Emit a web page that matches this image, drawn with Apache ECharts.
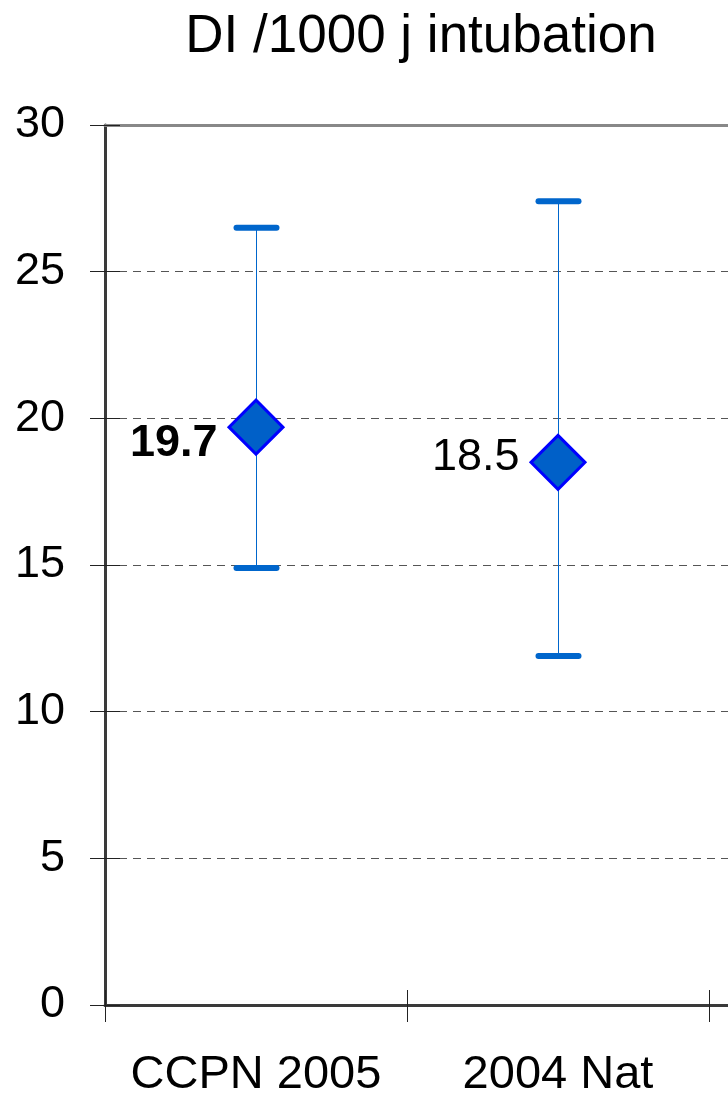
<!DOCTYPE html>
<html>
<head>
<meta charset="utf-8">
<script src="https://cdn.jsdelivr.net/npm/echarts@6/dist/echarts.min.js"></script>
<style>html,body{margin:0;padding:0;background:#fff}#c{width:728px;height:1094px}</style>
</head>
<body>
<div id="c"></div>
<script>
var titleText = "DI /1000 j intubation";
var categories = ["CCPN 2005", "2004 Nat", ""];
var means = [19.7, 18.5];
var upper = [26.5, 27.4];
var lower = [14.9, 11.9];
var yTicks = [0, 5, 10, 15, 20, 25, 30];

var FONT = "'Liberation Sans', Arial, sans-serif";
var chart = echarts.init(document.getElementById('c'));

var errData = means.map(function (m, i) { return [i, lower[i], upper[i]]; });
var meanData = means.map(function (m, i) {
  return {
    value: [i, m],
    label: {
      fontWeight: i === 0 ? 'bold' : 'normal',
      offset: i === 0 ? [0, 16] : [0, -5]
    }
  };
});

chart.setOption({
  animation: false,
  backgroundColor: '#fff',
  title: {
    text: titleText,
    left: 416, top: 6, textAlign: 'center',
    textStyle: { fontFamily: FONT, fontSize: 53, fontWeight: 'normal', color: '#000' }
  },
  grid: { left: 105, top: 125, bottom: 89, right: -283, outerBoundsMode: 'none', containLabel: false },
  xAxis: [
    {
      type: 'category', data: categories, position: 'bottom',
      axisLine: { lineStyle: { color: '#3a3a3a', width: 3 } },
      axisTick: { show: true, inside: false, length: 17, lineStyle: { color: '#222', width: 1 } },
      axisLabel: { fontFamily: FONT, fontSize: 47, color: '#000', margin: 47, interval: 0, hideOverlap: false },
      splitLine: { show: false }
    },
    {
      type: 'category', data: categories, position: 'bottom',
      axisLine: { show: false },
      axisTick: { show: true, inside: true, length: 15, lineStyle: { color: '#222', width: 1 } },
      axisLabel: { show: false },
      splitLine: { show: false }
    },
    {
      type: 'category', data: categories, position: 'top',
      axisLine: { lineStyle: { color: '#888', width: 3 } },
      axisTick: { show: false },
      axisLabel: { show: false },
      splitLine: { show: false }
    }
  ],
  yAxis: [
    {
      type: 'value', min: 0, max: 30, interval: 5,
      axisLine: { show: true, lineStyle: { color: '#3a3a3a', width: 3 } },
      axisTick: { show: true, inside: false, length: 15, lineStyle: { color: '#222', width: 1 } },
      axisLabel: { fontFamily: FONT, fontSize: 45, color: '#000', margin: 40 },
      splitLine: { show: true, lineStyle: { color: '#555', width: 1, type: [8, 6] } }
    },
    {
      type: 'value', min: 0, max: 30, interval: 5, position: 'left',
      axisLine: { show: false },
      axisTick: { show: true, inside: true, length: 15, lineStyle: { color: '#222', width: 1 } },
      axisLabel: { show: false },
      splitLine: { show: false }
    }
  ],
  series: [
    {
      type: 'custom',
      data: errData,
      z: 2,
      renderItem: function (params, api) {
        var x = api.value(0);
        var lo = api.coord([x, api.value(1)]);
        var hi = api.coord([x, api.value(2)]);
        var cx = Math.round(lo[0]) + 0.5;
        var half = 20;
        return {
          type: 'group',
          children: [
            { type: 'line', shape: { x1: cx, y1: lo[1], x2: cx, y2: hi[1] },
              style: { stroke: '#0066cc', lineWidth: 1 } },
            { type: 'line', shape: { x1: cx - half, y1: hi[1], x2: cx + half, y2: hi[1] },
              style: { stroke: '#0066cc', lineWidth: 6, lineCap: 'round' } },
            { type: 'line', shape: { x1: cx - half, y1: lo[1], x2: cx + half, y2: lo[1] },
              style: { stroke: '#0066cc', lineWidth: 6, lineCap: 'round' } }
          ]
        };
      }
    },
    {
      type: 'scatter',
      data: meanData,
      z: 3,
      symbol: 'diamond',
      symbolSize: [54, 54],
      itemStyle: { color: '#0060c8', borderColor: '#0000ff', borderWidth: 3, opacity: 1 },
      label: {
        show: true, position: 'left', distance: 10,
        fontFamily: FONT, fontSize: 45, color: '#000',
        formatter: function (p) { return p.value[1].toFixed(1); }
      }
    }
  ]
});
</script>
</body>
</html>
